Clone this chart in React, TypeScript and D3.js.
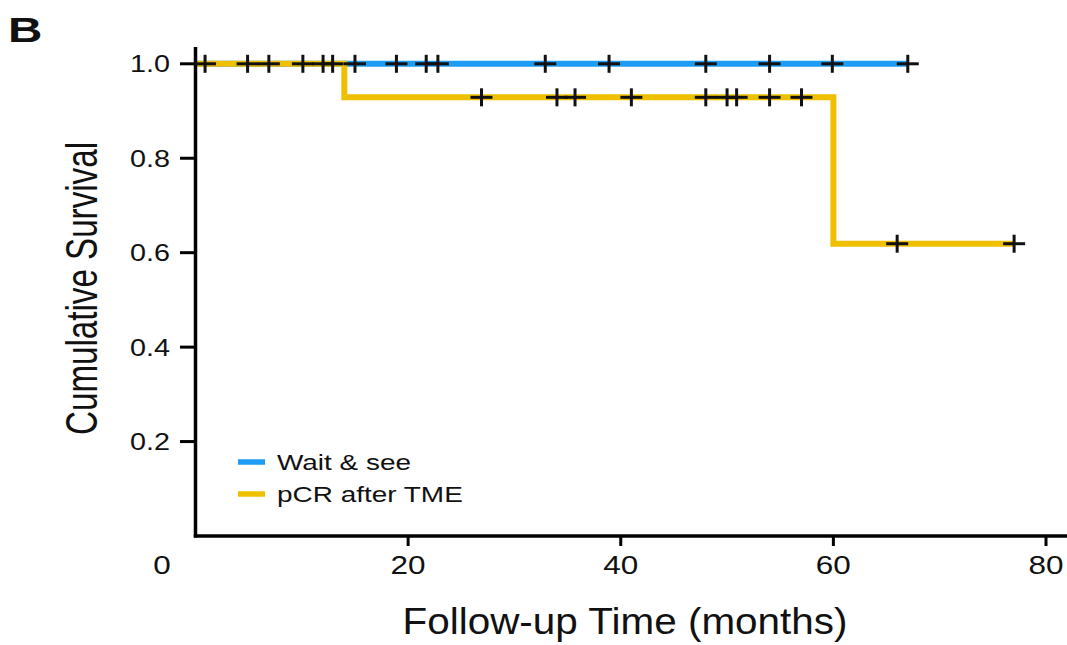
import React from "react";
import * as d3 from "d3";

const xTicks = [20, 40, 60, 80];
const yTicks = [0.2, 0.4, 0.6, 0.8, 1.0];

// Wait & see: no events, all censored at 1.0
const waitSteps: [number, number][] = [[0, 1.0], [67, 1.0]];
const waitCensor: [number, number][] = [
  [4.9, 1.0], [10.1, 1.0], [12.0, 1.0], [15.0, 1.0], [18.9, 1.0], [21.7, 1.0],
  [22.8, 1.0], [32.9, 1.0], [38.9, 1.0], [48.0, 1.0], [54.0, 1.0], [59.9, 1.0], [67.0, 1.0],
];

// pCR after TME: events at 14 and 60 months
const pcrSteps: [number, number][] = [[0, 1.0], [14, 0.929], [60, 0.619], [77, 0.619]];
const pcrCensor: [number, number][] = [
  [0.9, 1.0], [6.9, 1.0], [12.9, 1.0],
  [26.9, 0.929], [34.0, 0.929], [35.7, 0.929], [41.0, 0.929], [48.0, 0.929],
  [50.0, 0.929], [50.9, 0.929], [54.0, 0.929], [57.0, 0.929],
  [66.0, 0.619], [77.0, 0.619],
];

const seriesNames = ["Wait & see", "pCR after TME"];
const seriesColors = ["#1E9BF2", "#EEC000"];

export default function App() {
  const x = d3.scaleLinear().domain([0, 80]).range([195.5, 1046]);
  const y = d3.scaleLinear().domain([0, 1]).range([536, 63.8]);
  const line = d3
    .line<[number, number]>()
    .x((d) => x(d[0]))
    .y((d) => y(d[1]))
    .curve(d3.curveStepAfter);

  const font = "'Liberation Sans', Arial, Helvetica, sans-serif";
  const allCensor = [...waitCensor, ...pcrCensor];

  return (
    <svg
      width={1067}
      height={645}
      style={{ position: "absolute", left: 0, top: 0, background: "#fff" }}
      fontFamily={font}
    >
      <rect x={0} y={0} width={1067} height={645} fill="#fff" />
      {/* panel label */}
      <text transform="translate(8,42) scale(1.36,1)" fontSize={35} fontWeight="bold" fill="#111">
        B
      </text>

      {/* curves */}
      <path d={line(waitSteps) || ""} fill="none" stroke={seriesColors[0]} strokeWidth={6} />
      <path d={line(pcrSteps) || ""} fill="none" stroke={seriesColors[1]} strokeWidth={6} />

      {/* axes */}
      <line x1={195.5} x2={195.5} y1={47} y2={537.5} stroke="#000" strokeWidth={3.5} />
      <line x1={193.8} x2={1067} y1={536} y2={536} stroke="#000" strokeWidth={3.5} />
      {yTicks.map((t) => (
        <g key={"yt" + t}>
          <line x1={180} x2={195.5} y1={y(t)} y2={y(t)} stroke="#000" strokeWidth={3} />
          <text
            transform={`translate(170,${y(t) + 8.5}) scale(1.25,1)`}
            fontSize={23}
            textAnchor="end"
            fill="#111"
          >
            {t.toFixed(1)}
          </text>
        </g>
      ))}
      {xTicks.map((t) => (
        <g key={"xt" + t}>
          <line x1={x(t)} x2={x(t)} y1={536} y2={546} stroke="#000" strokeWidth={3} />
          <text
            transform={`translate(${x(t)},574) scale(1.26,1)`}
            fontSize={25}
            textAnchor="middle"
            fill="#111"
          >
            {t}
          </text>
        </g>
      ))}
      <text transform="translate(162,574) scale(1.26,1)" fontSize={25} textAnchor="middle" fill="#111">
        0
      </text>

      {/* censor marks */}
      {allCensor.map((d, i) => (
        <g key={"c" + i} stroke="#111" strokeWidth={3}>
          <line x1={x(d[0]) - 11} x2={x(d[0]) + 11} y1={y(d[1])} y2={y(d[1])} />
          <line x1={x(d[0])} x2={x(d[0])} y1={y(d[1]) - 9} y2={y(d[1]) + 9} />
        </g>
      ))}

      {/* legend */}
      {seriesNames.map((name, i) => (
        <g key={name}>
          <line x1={238} x2={265} y1={462 + i * 32} y2={462 + i * 32} stroke={seriesColors[i]} strokeWidth={5.5} />
          <text
            transform={`translate(277,${470 + i * 32}) scale(1.3,1)`}
            fontSize={21.5}
            fill="#111"
          >
            {name}
          </text>
        </g>
      ))}

      {/* axis titles */}
      <text
        x={625}
        y={634}
        fontSize={37}
        textAnchor="middle"
        textLength={445}
        lengthAdjust="spacingAndGlyphs"
        fill="#111"
      >
        Follow-up Time (months)
      </text>
      <text
        transform="translate(97,288.5) rotate(-90)"
        fontSize={44}
        textAnchor="middle"
        textLength={293}
        lengthAdjust="spacingAndGlyphs"
        fill="#111"
      >
        Cumulative Survival
      </text>
    </svg>
  );
}
